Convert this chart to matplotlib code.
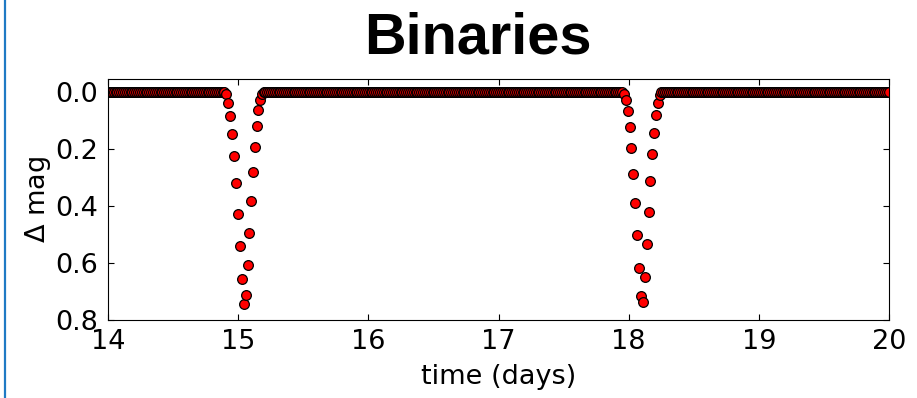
import numpy as np
import matplotlib
matplotlib.use('Agg')
import matplotlib.pyplot as plt
from matplotlib.lines import Line2D

# sampling cadence of the light curve (days)
cadence = 0.01442

# out-of-eclipse stretches, magnitude stays at 0.0
flat_spans = [(14.0, 14.895), (15.195, 17.950), (18.252, 20.0)]

# primary eclipse around t = 15.04
ecl1_t = [14.908, 14.925, 14.938, 14.952, 14.964, 14.982, 14.998, 15.013, 15.028, 15.041,
          15.062, 15.072, 15.085, 15.098, 15.113, 15.131, 15.144, 15.156, 15.169, 15.182]
ecl1_mag = [0.008, 0.040, 0.084, 0.147, 0.227, 0.321, 0.428, 0.541, 0.656, 0.744,
            0.714, 0.609, 0.496, 0.382, 0.280, 0.193, 0.120, 0.064, 0.028, 0.008]

# second eclipse around t = 18.1
ecl2_t = [17.964, 17.977, 17.992, 18.008, 18.021, 18.036, 18.052, 18.067, 18.082, 18.095,
          18.108, 18.123, 18.141, 18.154, 18.167, 18.182, 18.195, 18.210, 18.225, 18.238]
ecl2_mag = [0.006, 0.029, 0.067, 0.123, 0.198, 0.287, 0.390, 0.503, 0.619, 0.718,
            0.739, 0.649, 0.535, 0.422, 0.314, 0.220, 0.143, 0.081, 0.039, 0.011]

t_parts = [np.arange(a, b, cadence) for a, b in flat_spans]
time = np.concatenate(t_parts + [ecl1_t, ecl2_t])
dmag = np.concatenate([np.zeros(len(p)) for p in t_parts] + [ecl1_mag, ecl2_mag])
order = np.argsort(time)
time, dmag = time[order], dmag[order]

fig = plt.figure(figsize=(9.17, 3.98), dpi=100)
ax = fig.add_axes([0.1178, 0.197, 0.8517, 0.6045])

ax.plot(time, dmag, 'o', color='red', mec='black', mew=0.9, ms=7, ls='none')

ax.set_xlim(14, 20)
ax.set_ylim(0.8, -0.045)
ax.set_xticks([14, 15, 16, 17, 18, 19, 20])
ax.set_yticks([0.0, 0.2, 0.4, 0.6, 0.8])
ax.set_yticklabels(['0.0', '0.2', '0.4', '0.6', '0.8'])
ax.tick_params(direction='in', top=True, right=True, length=4, width=0.8,
               labelsize=19.5, pad=7)
ax.set_xlabel('time (days)', fontsize=19.5, labelpad=6)
ax.set_ylabel(r'$\Delta$ mag', fontsize=19.5, labelpad=2)

fig.text(0.521, 1 - 54 / 398, 'Binaries', ha='center', va='baseline', fontsize=41.5,
         fontweight='bold', family='Liberation Sans')

# notebook margin line on the left edge
fig.add_artist(Line2D([4.5 / 917, 4.5 / 917], [0, 1], transform=fig.transFigure,
                      color='#1f7ac4', lw=1.6))

fig.savefig('out.png', dpi=100)
